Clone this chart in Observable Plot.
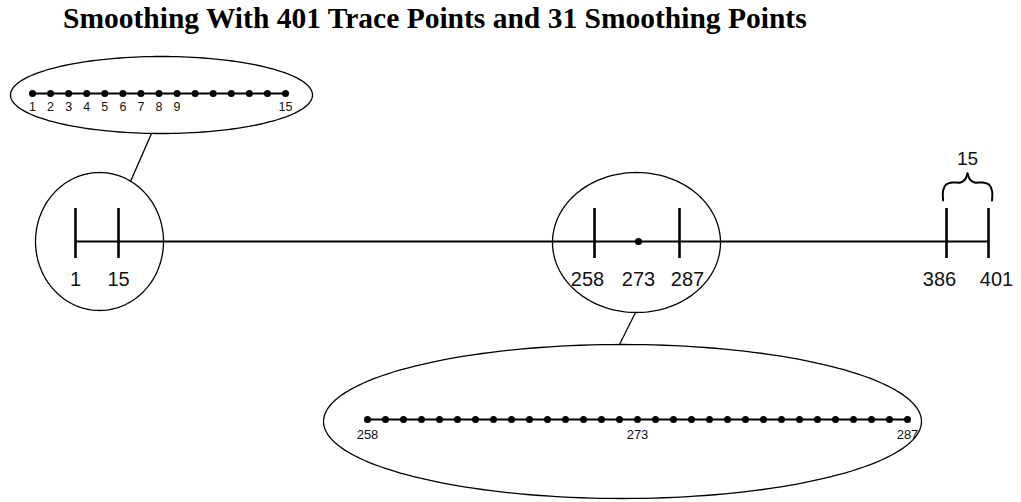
<!DOCTYPE html>
<html>
<head>
<meta charset="utf-8">
<script src="https://cdn.jsdelivr.net/npm/d3@7"></script>
<script src="https://cdn.jsdelivr.net/npm/@observablehq/plot@0.6"></script>
<style>
  body { margin: 0; background: #fff; }
  #title { height: 36px; line-height: 36px; padding-left: 63px; font-family: "Liberation Serif", "Times New Roman", serif; font-weight: bold; font-size: 29.5px; white-space: nowrap; color: #000; }
  #stage { position: relative; width: 1021px; height: 466px; }
  #stage svg { position: absolute; left: 0; top: 0; }
</style>
</head>
<body>
<div id="title">Smoothing With 401 Trace Points and 31 Smoothing Points</div>
<div id="stage"></div>
<script>
// ---------- data ----------
const traceRange = [1, 401];
const mainTicks = [1, 15, 258, 287, 386, 401];
const centerPoint = 273;
const mainLabelsCenter = [1, 15, 273];
const mainLabelsLeft = [258, 386];
const mainLabelsRight = [287, 401];
const windowSpan = [386, 401];
const windowLabel = ["15"];
const topInsetPoints = [1, 2, 3, 4, 5, 6, 7, 8, 9, 10, 11, 12, 13, 14, 15];
const topInsetLabels = [1, 2, 3, 4, 5, 6, 7, 8, 9, 15];
const bottomInsetPoints = [258, 259, 260, 261, 262, 263, 264, 265, 266, 267, 268, 269, 270, 271, 272, 273,
  274, 275, 276, 277, 278, 279, 280, 281, 282, 283, 284, 285, 286, 287, 288];
const bottomInsetLabelAt = [258, 273, 288];
const bottomInsetLabelText = ["258", "273", "287"];

// ---------- layout (pixel geometry, not data) ----------
const W = 1021, H = 466, TOP = 36;
const mainRange = [75, 118, 594, 679, 946, 988];
const axisY = 241, tickTop = 208, tickBottom = 258, labelBase = 285;
const topInsetRange = [32, 285], topInsetY = 93, topInsetLabelY = 110;
const bottomInsetRange = [367, 907], bottomInsetY = 419, bottomInsetLabelY = 438;
const ellipses = [
  {id: "top", cx: 161, cy: 94.5, rx: 151, ry: 38.5},
  {id: "left", cx: 99, cy: 241, rx: 64, ry: 69},
  {id: "mid", cx: 636, cy: 242, rx: 84, ry: 70},
  {id: "bottom", cx: 622, cy: 421, rx: 299, ry: 77}
];
const connectors = [
  {x1: 151, y1: 133, x2: 130, y2: 181},
  {x1: 635, y1: 312, x2: 619, y2: 344}
];

const font = '"Liberation Sans", Arial, Helvetica, sans-serif';
const yPix = {domain: [TOP, TOP + H], range: [0, H], axis: null};
const base = {width: W, height: H, margin: 0, y: yPix,
  style: {background: "transparent", overflow: "visible", fontFamily: font, color: "#000"}};

const stage = document.getElementById("stage");

// ellipse outlines
const ellipsePts = [];
for (const e of ellipses) {
  for (let i = 0; i <= 180; i++) {
    const a = (i / 180) * 2 * Math.PI;
    ellipsePts.push({id: e.id, x: e.cx + e.rx * Math.cos(a), y: e.cy + e.ry * Math.sin(a)});
  }
}

const decor = Plot.plot({
  ...base,
  x: {domain: [0, W], range: [0, W], axis: null},
  marks: [
    Plot.line(ellipsePts, {x: "x", y: "y", z: "id", stroke: "#000", strokeWidth: 1.3}),
    Plot.link(connectors, {x1: "x1", y1: "y1", x2: "x2", y2: "y2", stroke: "#000", strokeWidth: 1.3})
  ]
});
stage.appendChild(decor);

// brace template: offsets in px from brace centre and y in px
const braceHalf = [[-24.5, 200], [-24.5, 190], [-21.5, 184], [-15, 182], [-7, 182], [-2.5, 179], [0, 173]];
const pxPerUnit = (mainRange[5] - mainRange[4]) / (windowSpan[1] - windowSpan[0]);
const mid = (windowSpan[0] + windowSpan[1]) / 2;
const bracePts = [];
for (const [dx, y] of braceHalf) bracePts.push({side: "L", x: mid + dx / pxPerUnit, y});
for (const [dx, y] of braceHalf) bracePts.push({side: "R", x: mid - dx / pxPerUnit, y});

const main = Plot.plot({
  ...base,
  x: {type: "linear", domain: mainTicks, range: mainRange, axis: null},
  marks: [
    Plot.ruleY([axisY], {x1: traceRange[0], x2: traceRange[1], stroke: "#000", strokeWidth: 2}),
    Plot.ruleX(mainTicks, {y1: tickTop, y2: tickBottom, stroke: "#000", strokeWidth: 2.6}),
    Plot.dot([centerPoint], {x: d => d, y: axisY, r: 3.6, fill: "#000", stroke: null}),
    Plot.text(mainLabelsCenter, {x: d => d, y: labelBase, text: d => String(d), fontSize: 20, lineAnchor: "bottom", fill: "#111"}),
    Plot.text(mainLabelsLeft, {x: d => d, y: labelBase, text: d => String(d), fontSize: 20, lineAnchor: "bottom", dx: -7, fill: "#111"}),
    Plot.text(mainLabelsRight, {x: d => d, y: labelBase, text: d => String(d), fontSize: 20, lineAnchor: "bottom", dx: 8, fill: "#111"}),
    Plot.line(bracePts, {x: "x", y: "y", z: "side", curve: "catmull-rom", stroke: "#000", strokeWidth: 2}),
    Plot.text(windowLabel, {x: mid, y: 164, text: d => d, fontSize: 19, lineAnchor: "bottom", fill: "#111"})
  ]
});
stage.appendChild(main);

const topInset = Plot.plot({
  ...base,
  x: {domain: [topInsetPoints[0], topInsetPoints[topInsetPoints.length - 1]], range: topInsetRange, axis: null},
  marks: [
    Plot.ruleY([topInsetY], {x1: topInsetPoints[0], x2: topInsetPoints[topInsetPoints.length - 1], stroke: "#000", strokeWidth: 2}),
    Plot.dot(topInsetPoints, {x: d => d, y: topInsetY, r: 3.5, fill: "#000", stroke: null}),
    Plot.text(topInsetLabels, {x: d => d, y: topInsetLabelY, text: d => String(d), fontSize: 12.5, lineAnchor: "bottom", fill: "#111"})
  ]
});
stage.appendChild(topInset);

const bottomInset = Plot.plot({
  ...base,
  x: {domain: [bottomInsetPoints[0], bottomInsetPoints[bottomInsetPoints.length - 1]], range: bottomInsetRange, axis: null},
  marks: [
    Plot.ruleY([bottomInsetY], {x1: bottomInsetPoints[0], x2: bottomInsetPoints[bottomInsetPoints.length - 1], stroke: "#000", strokeWidth: 2}),
    Plot.dot(bottomInsetPoints, {x: d => d, y: bottomInsetY, r: 3.5, fill: "#000", stroke: null}),
    Plot.text(bottomInsetLabelAt, {x: d => d, y: bottomInsetLabelY, text: (d, i) => bottomInsetLabelText[i], fontSize: 13, lineAnchor: "bottom", fill: "#111"})
  ]
});
stage.appendChild(bottomInset);
</script>
</body>
</html>
